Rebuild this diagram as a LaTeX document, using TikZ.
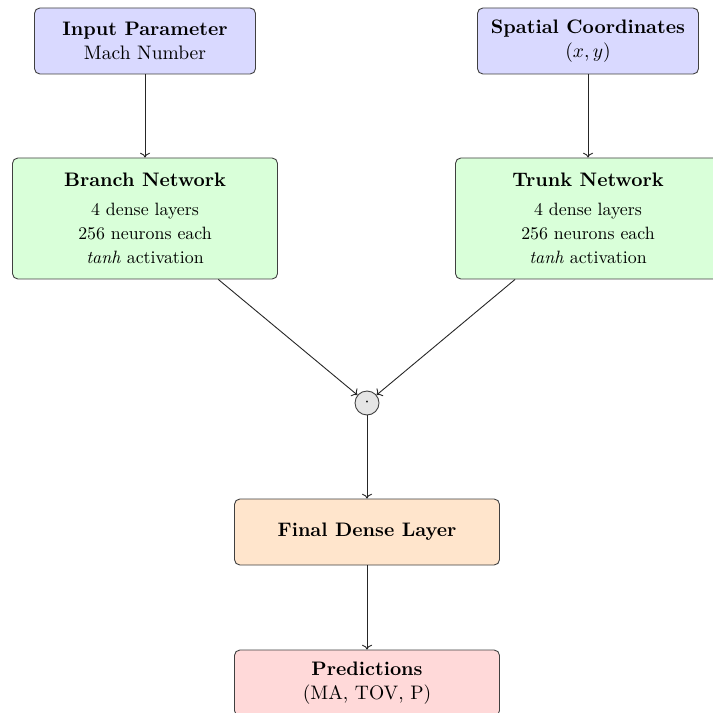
\documentclass[tikz,border=0pt]{standalone}
\usetikzlibrary{arrows.meta}
\newcommand{\detfont}{\fontsize{10}{13.2}\selectfont}
\begin{document}
\begin{tikzpicture}[x=0.5605pt,y=-0.5605pt,
  box/.style={draw=black!75, rounded corners=3pt, align=center, inner sep=0pt, line width=0.5pt, font=\fontsize{10.95}{13.6}\selectfont},
  inbox/.style={box, fill=blue!15, minimum width=221*0.5605pt, minimum height=66*0.5605pt},
  netbox/.style={box, fill=green!15, minimum width=265*0.5605pt, minimum height=121*0.5605pt},
  outbox/.style={box, minimum width=265*0.5605pt, minimum height=66*0.5605pt},
  conn/.style={->, line width=0.5pt, draw=black!85}]
\clip (0,0) rectangle (713,713);
\fill[white] (0,0) rectangle (713,713);
\node[inbox] (inp) at (145,41) {\textbf{Input Parameter}\\Mach Number};
\node[inbox] (sp) at (588,41) {\textbf{Spatial Coordinates}\\$(x,y)$};
\node[netbox] (br) at (145,218.5) {\textbf{Branch Network}\\[2.5pt]\detfont 4 dense layers\\\detfont 256 neurons each\\\detfont\textit{tanh} activation};
\node[netbox] (tr) at (588,218.5) {\textbf{Trunk Network}\\[2.5pt]\detfont 4 dense layers\\\detfont 256 neurons each\\\detfont\textit{tanh} activation};
\node[circle, draw=black!75, fill=gray!20, minimum size=24*0.5605pt, inner sep=0pt, line width=0.5pt] (dot) at (367,403) {$\cdot$};
\node[outbox, fill=orange!20] (fin) at (367,532) {\textbf{Final Dense Layer}};
\node[outbox, fill=red!15] (pred) at (367,683) {\textbf{Predictions}\\(MA, TOV, P)};
\draw[conn] (inp) -- (br);
\draw[conn] (sp) -- (tr);
\draw[conn] (br) -- (dot);
\draw[conn] (tr) -- (dot);
\draw[conn] (dot) -- (fin);
\draw[conn] (fin) -- (pred);
\end{tikzpicture}
\end{document}
